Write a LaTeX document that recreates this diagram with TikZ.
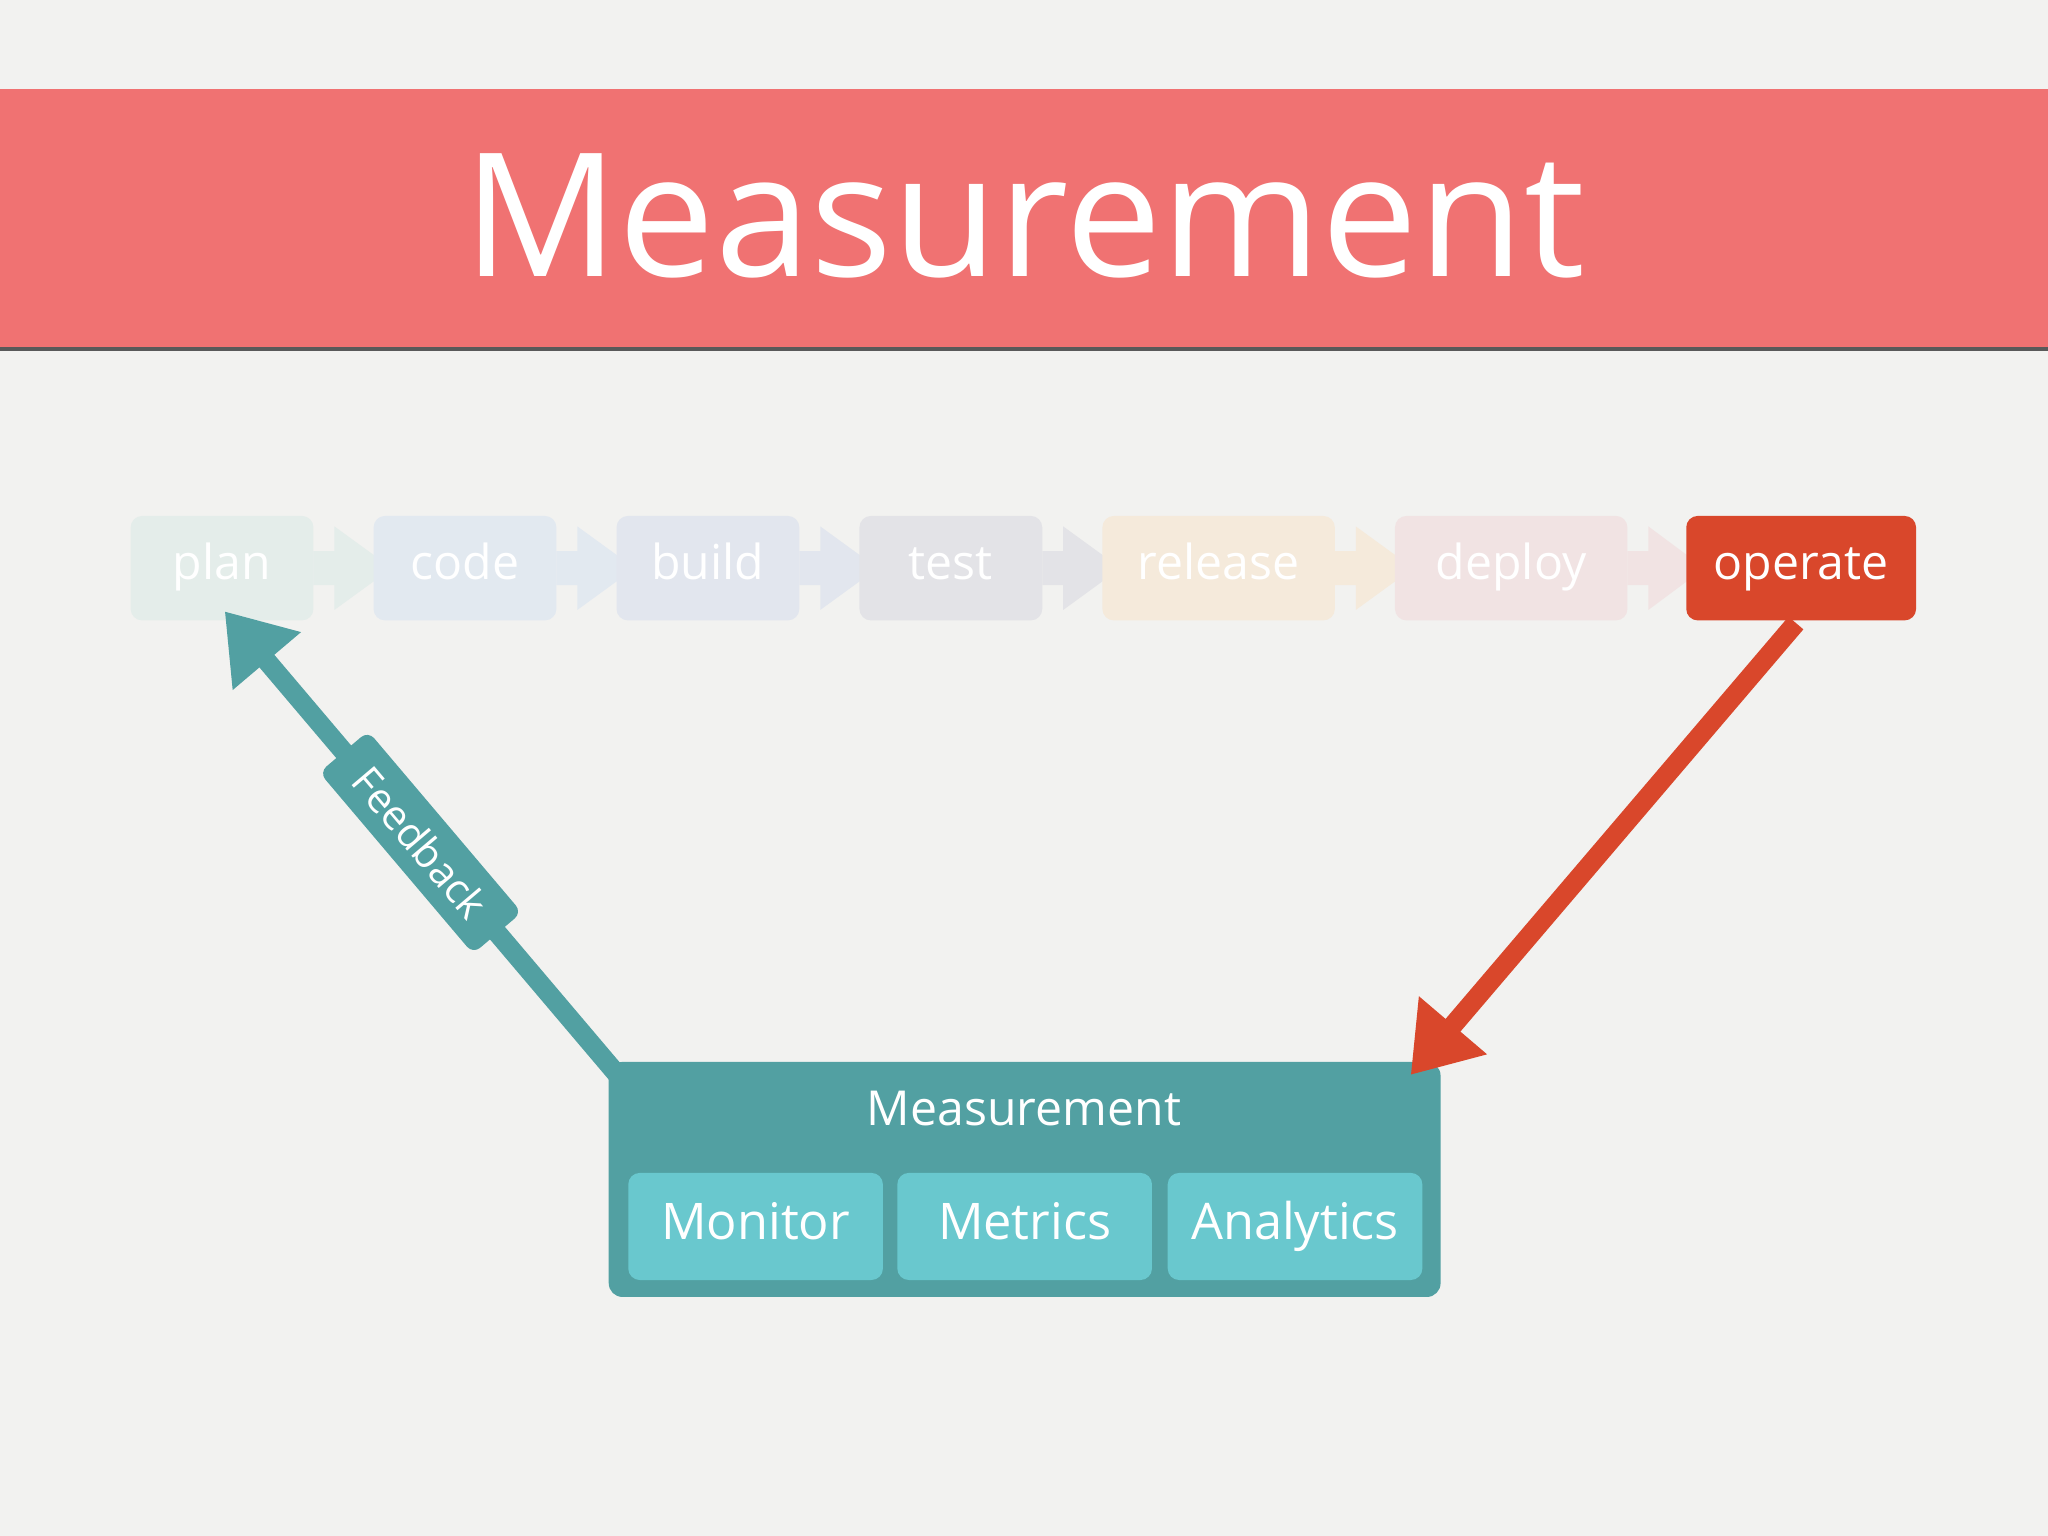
\documentclass[tikz,border=0pt]{standalone}
\usepackage{fontspec}
\setmainfont{Open Sans}
\usetikzlibrary{arrows.meta}
\definecolor{bg}{HTML}{F2F2F0}
\definecolor{band}{HTML}{F07272}
\definecolor{teal}{HTML}{52A0A2}
\definecolor{lteal}{HTML}{69C8CE}
\definecolor{org}{HTML}{D9472B}
\definecolor{cplan}{HTML}{E4EDEA}
\definecolor{ccode}{HTML}{E2E9F0}
\definecolor{cbuild}{HTML}{E2E6EE}
\definecolor{ctest}{HTML}{E3E3E7}
\definecolor{crel}{HTML}{F5EADB}
\definecolor{cdep}{HTML}{F1E3E3}
\tikzset{
 x=0.02cm,y=-0.02cm,
 chainbox/.style={rounded corners=5pt,inner sep=0pt,minimum height=1.6cm,text=white,font=\fontsize{21}{24}\selectfont,text height=15pt,text depth=5pt},
 subbox/.style={rounded corners=5pt,fill=lteal,inner sep=0pt,minimum width=3.9cm,minimum height=1.64cm,text=white,font=\fontsize{22}{26}\selectfont,text height=16pt,text depth=5pt},
}
\newcommand{\chev}[3]{% xa xb color
 \fill[#3] (#1,422) -- (#1+16,422) -- (#1+16,403) -- (#2+14,435) -- (#1+16,467) -- (#1+16,448) -- (#1,448) -- cycle;}
\begin{document}
\begin{tikzpicture}
\fill[bg] (0,0) rectangle (1568,1176);
\useasboundingbox (0,0) rectangle (1568,1176);
\fill[band] (0,68) rectangle (1568,267);
\fill[gray!70!black] (0,266) rectangle (1568,269);
\node[text=white,font=\fontsize{75}{90}\selectfont] (title) at (784,165) {Measurement};
% chain arrows
\chev{240}{286}{cplan}
\chev{426}{472}{ccode}
\chev{612}{658}{cbuild}
\chev{798}{844}{ctest}
\chev{1022}{1068}{crel}
\chev{1246}{1291}{cdep}
% chain boxes
\node[chainbox,fill=cplan,minimum width=2.8cm] (plan) at (170,435) {plan};
\node[chainbox,fill=ccode,minimum width=2.8cm] (code) at (356,435) {code};
\node[chainbox,fill=cbuild,minimum width=2.8cm] (build) at (542,435) {build};
\node[chainbox,fill=ctest,minimum width=2.8cm] (test) at (728,435) {test};
\node[chainbox,fill=crel,minimum width=3.56cm] (release) at (933,435) {release};
\node[chainbox,fill=cdep,minimum width=3.56cm] (deploy) at (1157,435) {deploy};
\node[chainbox,fill=org,minimum width=3.52cm] (operate) at (1379,435) {operate};
% measurement box
\node[rounded corners=6pt,fill=teal,minimum width=12.74cm,minimum height=3.6cm,inner sep=0pt] (meas) at (784.5,903) {};
\node[text=white,font=\fontsize{21}{24}\selectfont] (mtitle) at (784,849) {Measurement};
\node[subbox] (mon) at (578.5,939) {Monitor};
\node[subbox] (met) at (784.5,939) {Metrics};
\node[subbox] (ana) at (991.5,939) {Analytics};
% arrows
\coordinate (os) at (1375,477);
\coordinate (mt) at (1080,823);
\draw[org,line width=8.5pt,-{Triangle[length=1.0cm,width=1.3cm]}] (os) -- (mt);
\coordinate (mnw) at (472,822);
\coordinate (ps) at (172,468);
\draw[teal,line width=8.5pt,-{Triangle[length=1.0cm,width=1.3cm]}] (mnw) -- (ps)
  node[pos=0.5,sloped,fill=teal,rounded corners=4pt,text=white,font=\fontsize{18}{20}\selectfont,inner xsep=12pt,inner ysep=7pt] (fb) {Feedback};
\end{tikzpicture}
\end{document}
